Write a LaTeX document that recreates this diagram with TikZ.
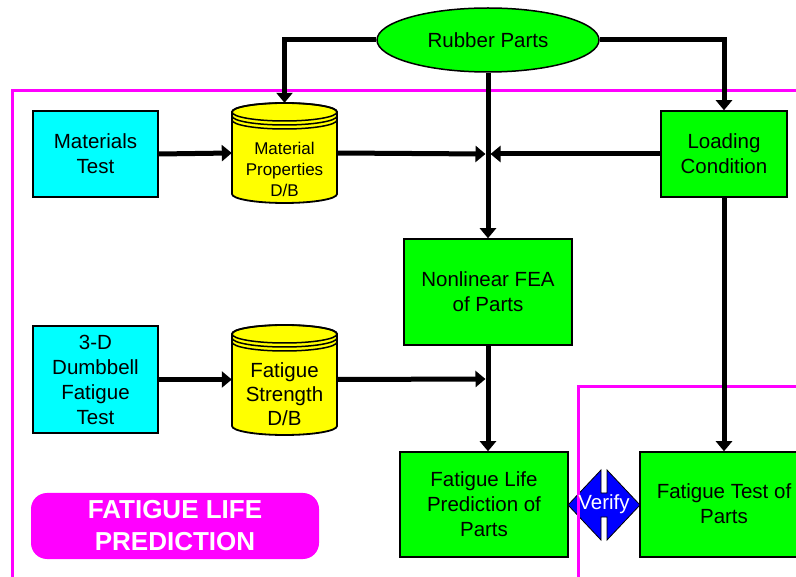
\documentclass[tikz,border=0pt]{standalone}
\usepackage{fontspec}
\setmainfont{Liberation Sans}
\usetikzlibrary{arrows.meta,shapes.geometric}
\definecolor{cgreen}{RGB}{0,255,0}
\definecolor{ccyan}{RGB}{0,255,255}
\definecolor{cyellow}{RGB}{255,255,0}
\definecolor{cmag}{RGB}{255,0,255}
\definecolor{cblue}{RGB}{0,0,255}
\tikzset{
  fnt/.style={font=\fontsize{20.5}{25}\selectfont},
  box/.style={draw=black, line width=1.5pt, align=center, inner sep=0pt, fnt},
  gbox/.style={box, fill=cgreen},
  cbox/.style={box, fill=ccyan},
  conn/.style={line width=5pt, draw=black},
  arr/.style={conn, -{Triangle[width=16pt,length=10pt]}},
  frame/.style={draw=cmag, line width=3pt},
  cylbody/.style={fill=cyellow, draw=black, line width=1.8pt},
  cylring/.style={draw=black, line width=1.5pt},
  anchorbox/.style={minimum width=105pt, inner sep=0pt},
}
% cylinder: #1 = centre x, #2 = top y, #3 = bottom y
\newcommand{\dbcyl}[3]{%
  \path[cylbody] (#1-52.5,#2+9) -- (#1-52.5,#3-9)
     arc[start angle=180, end angle=360, x radius=52.5pt, y radius=9pt]
     -- (#1+52.5,#2+9)
     arc[start angle=0, end angle=180, x radius=52.5pt, y radius=9pt] -- cycle;
  \draw[cylring] (#1,#2+9) ellipse[x radius=52.5pt, y radius=9pt];
  \draw[cylring] (#1-52.5,#2+13) arc[start angle=180, end angle=360, x radius=52.5pt, y radius=9pt];
  \draw[cylring] (#1-52.5,#2+17) arc[start angle=180, end angle=360, x radius=52.5pt, y radius=9pt];
}
\begin{document}
\begin{tikzpicture}[x=1pt, y=-1pt]
\clip (0,0) rectangle (796,577);
\fill[white] (0,0) rectangle (796,577);

% Verify double arrow (under the frame line)
\fill[cblue, draw=black, line width=0.8pt]
  (568,505) -- (601,470) -- (601,493) -- (607,493) -- (607,470) -- (640,505)
  -- (607,540) -- (607,517) -- (601,517) -- (601,540) -- cycle;

% frames
\draw[frame] (12,590) -- (12,91) -- (810,91);
\draw[frame] (578,590) -- (578,387) -- (810,387);

% nodes
\node[gbox, ellipse, minimum width=222pt, minimum height=64pt] (rubber) at (488,40) {Rubber Parts};
\node[cbox, minimum width=125pt, minimum height=86pt] (mt) at (95.5,154) {Materials\\Test};
\node[cbox, minimum width=125pt, minimum height=107pt] (db) at (95.5,379.5) {3-D\\Dumbbell\\Fatigue\\Test};
\node[gbox, minimum width=126pt, minimum height=86pt] (lc) at (724,154) {Loading\\Condition};
\node[gbox, minimum width=168pt, minimum height=106pt] (fea) at (488,292) {Nonlinear FEA\\of Parts};
\node[gbox, minimum width=168pt, minimum height=105pt] (flp) at (484,504.5) {Fatigue Life\\Prediction of\\Parts};
\node[gbox, minimum width=168pt, minimum height=105pt] (ft) at (724,504.5) {\phantom{X}};
\node[fnt, align=center] (fttext) at (724,504) {Fatigue Test of\\Parts};

% cylinders
\dbcyl{284.5}{103}{203}
\node[anchorbox, minimum height=100pt] (mp) at (284.5,153) {};
\node[align=center, font=\fontsize{17}{21}\selectfont] (mptext) at (284.5,169) {Material\\Properties\\D/B};
\dbcyl{284.5}{325}{435}
\node[anchorbox, minimum height=110pt] (fs) at (284.5,380) {};
\node[align=center, font=\fontsize{20.5}{24}\selectfont] (fstext) at (284.5,394) {Fatigue\\Strength\\D/B};

% junctions
\coordinate (j1l) at (485.5,154);
\coordinate (j1r) at (490.5,154);
\coordinate (j2l) at (485.5,379);

% connectors
\draw[arr] (rubber.west) -| (mp.north);
\draw[arr] (rubber.east) -| (lc.north);
\draw[arr] (rubber.south) -- (rubber.south |- fea.north);
\draw[arr] (mt.east) -- (mp.west);
\draw[arr] (mp.east) -- (j1l);
\draw[arr] (lc.west) -- (j1r);
\draw[arr] (db.east) -- (db.east -| fs.west);
\draw[arr] (db.east -| fs.east) -- (j2l);
\draw[arr] (fea.south) -- (fea.south |- flp.north);
\draw[arr] (lc.south) -- (lc.south |- ft.north);

% verify label
\node[text=white, fnt] (verify) at (604,504) {Verify};

% title
\node[fill=cmag, rounded corners=16pt, minimum width=288pt, minimum height=66pt, text=white,
      align=center, inner sep=0pt, font=\bfseries\fontsize{26}{32}\selectfont] (title) at (175,526) {FATIGUE LIFE\\PREDICTION};
\end{tikzpicture}
\end{document}
